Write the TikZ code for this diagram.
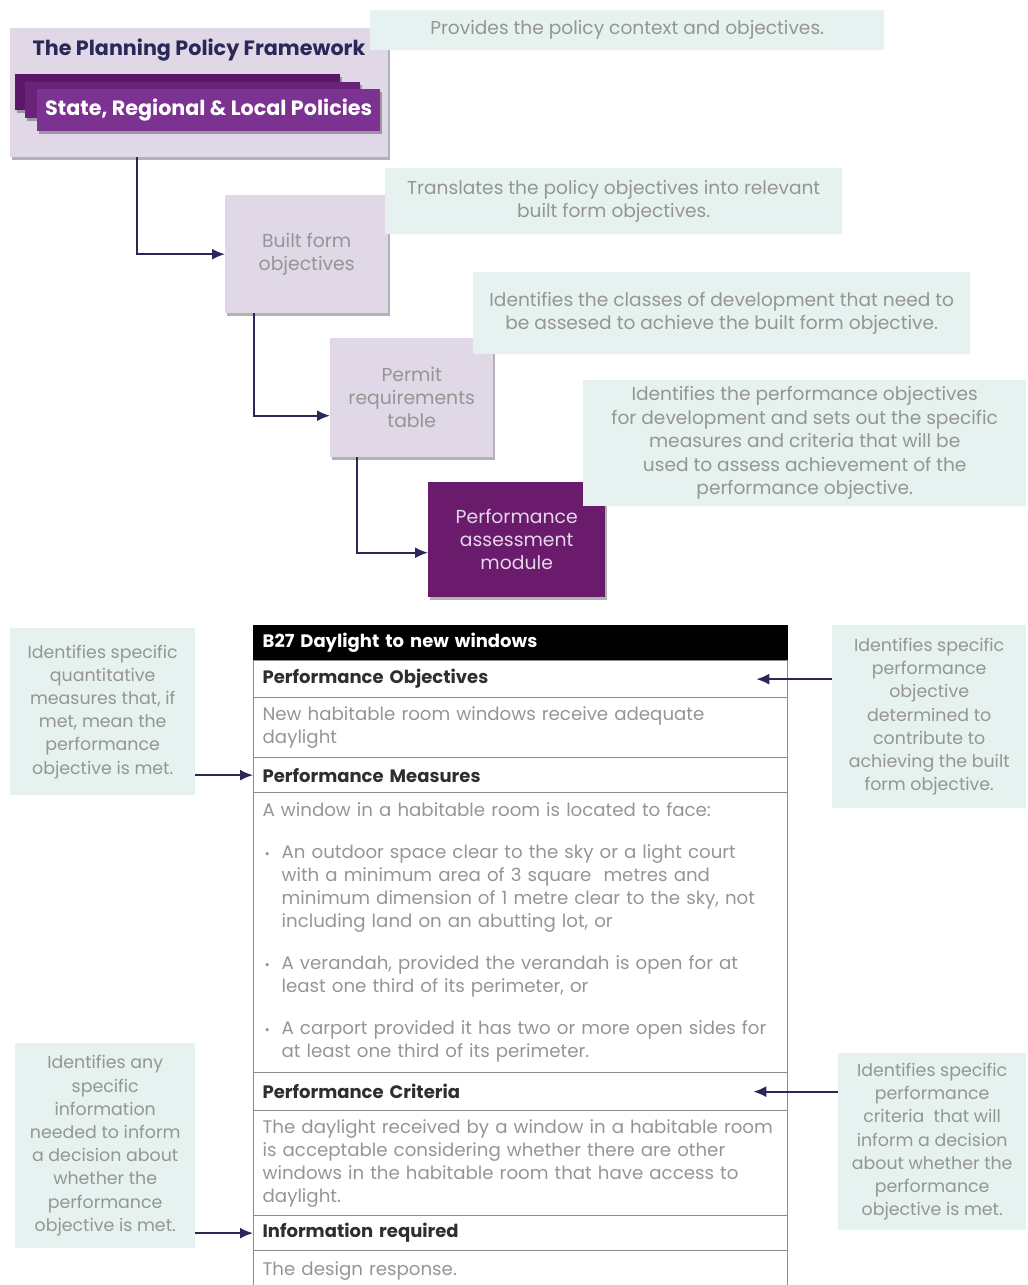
\documentclass[tikz,border=0pt]{standalone}
\usepackage{fontspec}
\setmainfont{Poppins}
\usetikzlibrary{shadows,arrows.meta,calc}
\definecolor{lav}{HTML}{E0D8E6}
\definecolor{mint}{HTML}{E5F2F0}
\definecolor{navy}{HTML}{2A2858}
\definecolor{purpA}{HTML}{5C1769}
\definecolor{purpB}{HTML}{6A2379}
\definecolor{purpC}{HTML}{7C3290}
\definecolor{pam}{HTML}{6A1B6C}
\definecolor{pamtxt}{HTML}{E6D6EA}
\definecolor{txt}{HTML}{959595}
\definecolor{hdr}{HTML}{2E2E2E}
\definecolor{rulec}{HTML}{8C8C8C}
\newcommand{\mybul}{\makebox[19pt][l]{\hspace{2pt}{\fontsize{13}{13}\selectfont •}}}
\newcommand{\myind}{\hspace*{19pt}}
\begin{document}
\begin{tikzpicture}[x=1pt,y=-1pt,
  base/.style={rectangle, anchor=north west, inner sep=0pt},
  shad/.style={drop shadow={shadow xshift=2pt,shadow yshift=-3pt,fill=black,opacity=0.3}},
  flowbox/.style={base, fill=lav, shad, align=center, text=txt, font=\fontsize{18.8}{23}\selectfont},
  bar/.style={base, shad},
  note/.style={base, fill=mint, align=center, text=txt, font=\fontsize{18.6}{23.5}\selectfont},
  sidenote/.style={base, fill=mint, align=center, text=txt, font=\fontsize{17.4}{23.2}\selectfont},
  row/.style={base, draw=rulec, line width=1.3pt, inner xsep=9pt, text width=516pt, align=left, minimum height=#1},
  rowhead/.style={row=#1, text=hdr, font=\bfseries\fontsize{18}{23}\selectfont},
  rowbody/.style={row=#1, text=txt, font=\fontsize{18.2}{23}\selectfont},
  conn/.style={draw=navy, line width=1.8pt, -{Latex[length=13pt,width=11pt]}}
]
\useasboundingbox (0,0) rectangle (1028,1285);
\clip (0,0) rectangle (1028,1285);

% ---------- flow part ----------
\node[flowbox, minimum width=378, minimum height=129] (ppf) at (10,28) {};
\node[text=navy, font=\bfseries\fontsize{20.7}{24}\selectfont, inner sep=0pt] (title) at (199,50) {The Planning Policy Framework};
\node[bar, fill=purpA, minimum width=325, minimum height=36] (barA) at (15,74) {};
\node[bar, fill=purpB, minimum width=335, minimum height=36] (barB) at (25,82) {};
\node[bar, fill=purpC, minimum width=343, minimum height=42, text=white, font=\bfseries\fontsize{20.7}{24}\selectfont] (barC) at (37,89) {State, Regional \& Local Policies};

\node[flowbox, minimum width=163, minimum height=118] (bfo) at (225,195) {Built form\\objectives};
\node[flowbox, minimum width=163, minimum height=119] (prt) at (330,338) {Permit\\requirements\\table};
\node[flowbox, fill=pam, text=pamtxt, minimum width=177, minimum height=115] (pam) at (428,482) {Performance\\assessment\\module};

\draw[conn] ([xshift=-62pt]ppf.south) |- (bfo.west);
\draw[conn] ([xshift=-53pt]bfo.south) |- ([yshift=-18pt]prt.west);
\draw[conn] ([xshift=-54.5pt]prt.south) |- ([yshift=-13pt]pam.west);

% ---------- notes ----------
\node[note, minimum width=514, minimum height=40] (a1) at (370,10) {Provides the policy context and objectives.};
\node[note, minimum width=457, minimum height=66] (a2) at (385,168) {Translates the policy objectives into relevant\\built form objectives.};
\node[note, minimum width=497, minimum height=82] (a3) at (473,272) {Identifies the classes of development that need to\\be assesed to achieve the built form objective.};
\node[note, minimum width=443, minimum height=126] (a4) at (583,380) {Identifies the performance objectives\\for development and sets out the specific\\measures and criteria that will be\\used to assess achievement of the\\performance objective.};

\node[sidenote, minimum width=185, minimum height=167] (l1) at (10,628) {Identifies specific\\quantitative\\measures that, if\\met, mean the\\performance\\objective is met.};
\node[sidenote, minimum width=194, minimum height=183] (r1) at (832,625) {Identifies specific\\performance\\objective\\determined to\\contribute to\\achieving the built\\form objective.};
\node[sidenote, minimum width=180, minimum height=205] (l2) at (15,1043) {Identifies any\\specific\\information\\needed to inform\\a decision about\\whether the\\performance\\objective is met.};
\node[sidenote, minimum width=188, minimum height=177] (r2) at (838,1053) {Identifies specific\\performance\\criteria\ \ that will\\inform a decision\\about whether the\\performance\\objective is met.};

% ---------- table ----------
\node[rowhead=35, fill=black, draw=black, text=white] (hdr) at (253,625) {B27 Daylight to new windows};
\node[rowhead=37] (po) at (253,660) {Performance Objectives};
\node[rowbody=60] (pot) at (253,697) {New habitable room windows receive adequate\\daylight};
\node[rowhead=35] (pm) at (253,757) {Performance Measures};
\node[rowbody=280] (pmt) at (253,792) {A window in a habitable room is located to face:\\[19pt]
\mybul An outdoor space clear to the sky or a light court\\
\myind with a minimum area of 3 square\ \ metres and\\
\myind minimum dimension of 1 metre clear to the sky, not\\
\myind including land on an abutting lot, or\\[19pt]
\mybul A verandah, provided the verandah is open for at\\
\myind least one third of its perimeter, or\\[19pt]
\mybul A carport provided it has two or more open sides for\\
\myind at least one third of its perimeter.};
\node[rowhead=38] (pc) at (253,1072) {Performance Criteria};
\node[rowbody=105] (pct) at (253,1110) {The daylight received by a window in a habitable room\\is acceptable considering whether there are other\\windows in the habitable room that have access to\\daylight.};
\node[rowhead=35] (ir) at (253,1215) {Information required};
\node[rowbody=40] (irt) at (253,1250) {The design response.};

% ---------- annotation arrows ----------
\draw[conn] (l1.east |- pm.west) -- (pm.west);
\draw[conn] (r1.west |- po.east) -- ([xshift=-32pt]po.east);
\draw[conn] (r2.west |- pc.east) -- ([xshift=-35pt]pc.east);
\draw[conn] (l2.east |- ir.west) -- (ir.west);
\end{tikzpicture}
\end{document}
